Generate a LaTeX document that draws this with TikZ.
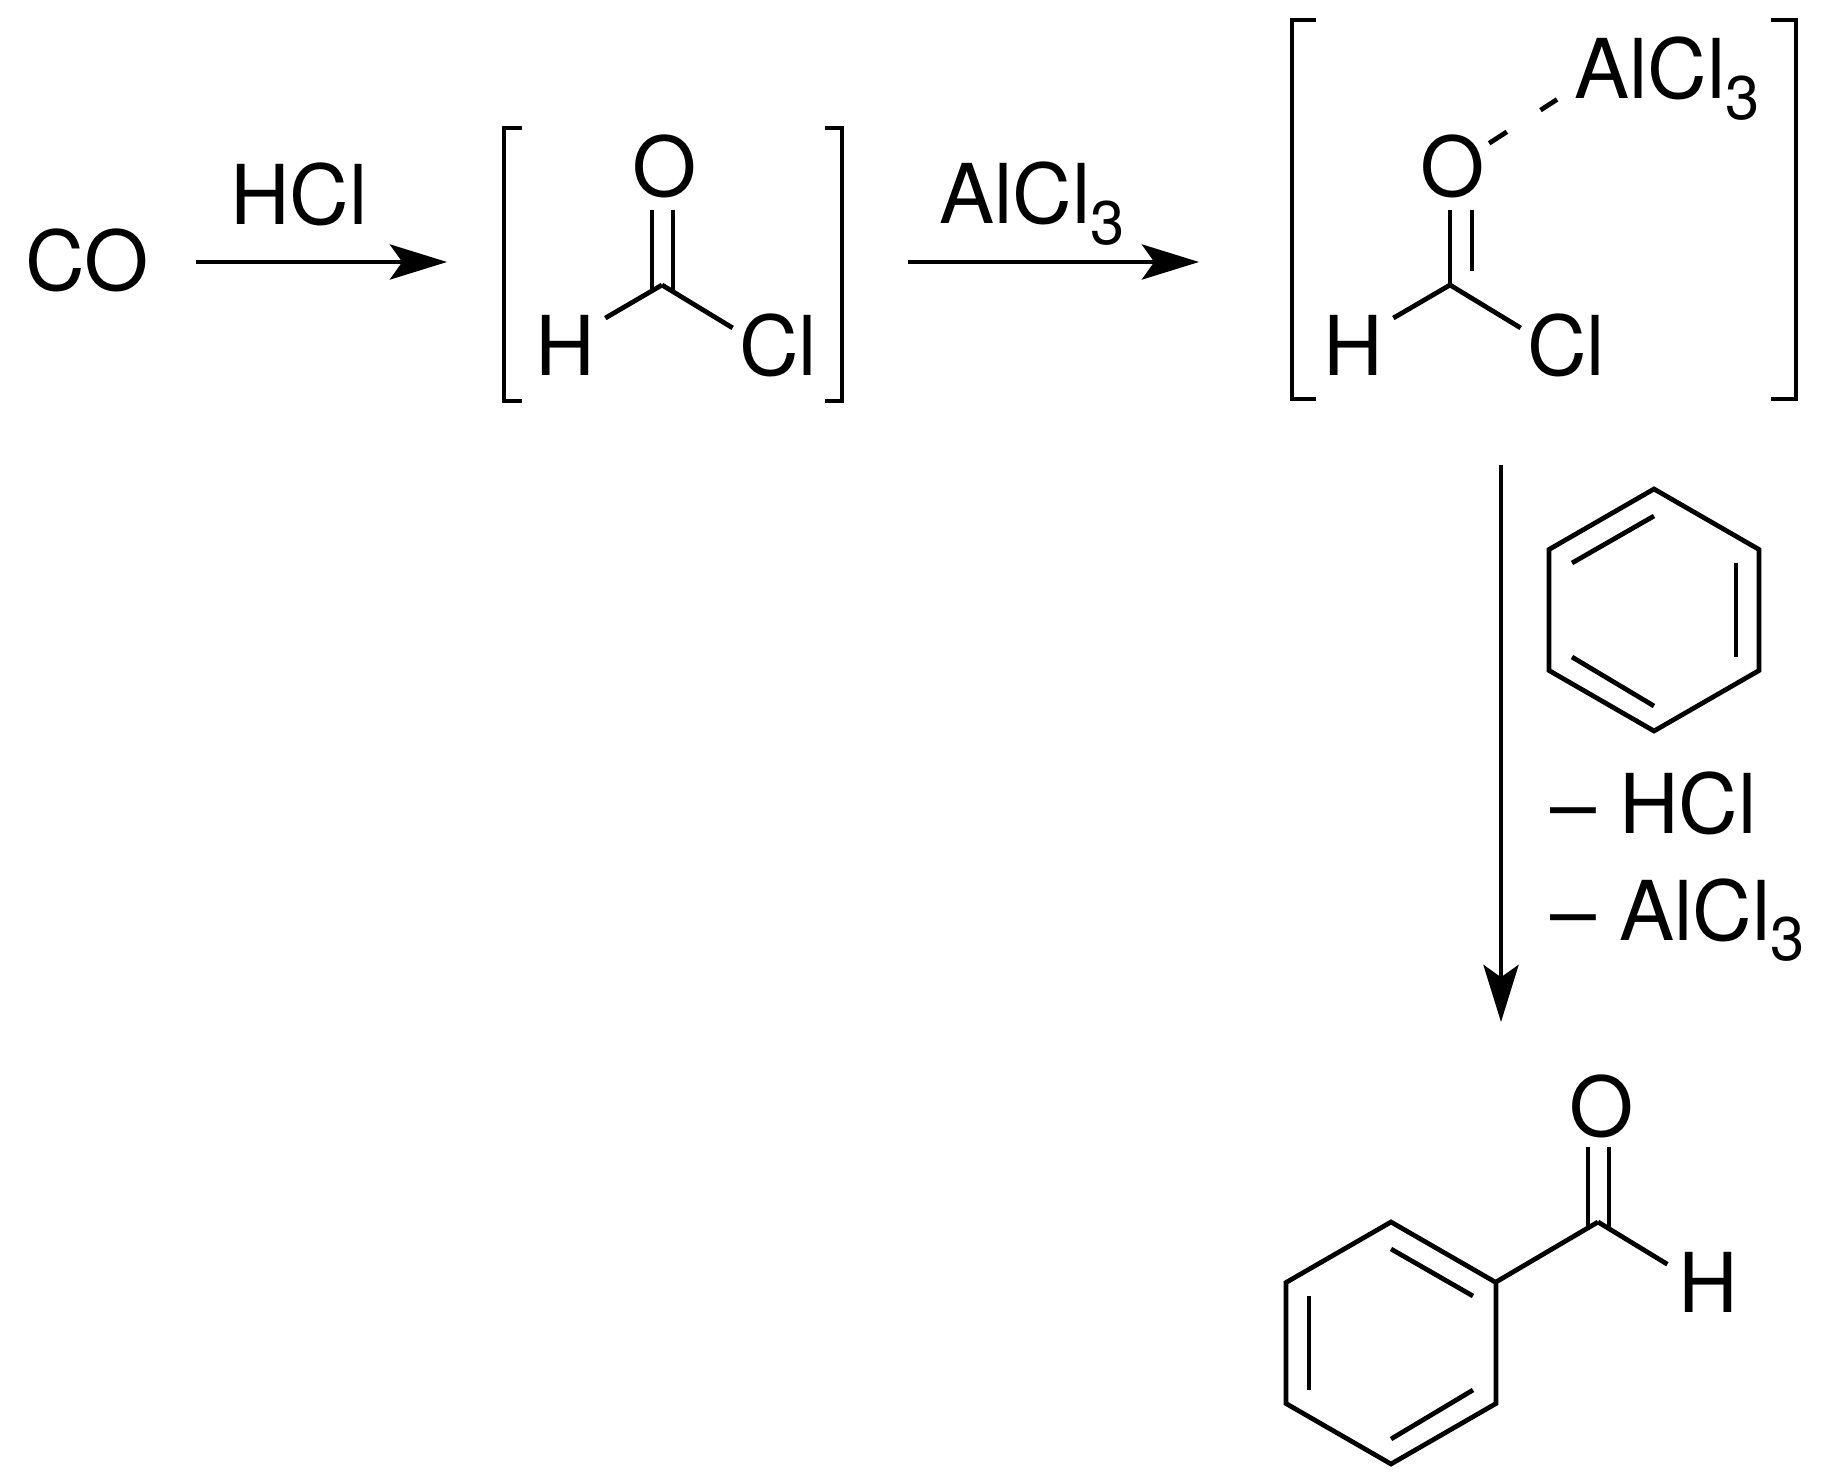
\documentclass[tikz,border=0pt]{standalone}
\usepackage{fontspec}
\setmainfont{TeX Gyre Heros}
\usetikzlibrary{arrows.meta}
\tikzset{
    atom/.style={inner sep=0pt,anchor=base,font=\fontsize{47}{58}\selectfont},
    bond/.style={line width=2.7pt,black},
    rxnarrow/.style={line width=2.5pt,-{Stealth[length=32.5pt,width=20pt,inset=7pt]}},
}
\newcommand\alcl{AlCl\raisebox{-11.5pt}{\fontsize{35}{35}\selectfont 3}}
\newcommand\dbl[4]{
    \coordinate (#1t) at (#2,#3);
    \coordinate (#1b) at (#2,#4);
    \draw[bond] (#1t) -- (#1b);
}
\newcommand\chloride[2]{
    \coordinate (c#1) at (#2,285);
    \node[atom] (o#1) at (#2+2.5,197) {O};
    \node[atom] (h#1) at (#2-97,376) {H};
    \node[atom] (cl#1) at (#2+116,376) {Cl};
    \draw[bond,shorten >=6.7pt] (c#1) -- (h#1.36);
    \draw[bond,shorten >=4pt] (c#1) -- (cl#1.160);
}
\newcommand\benzene[3]{
    \draw[bond,shift={(#1,#2)},xscale=#3] (0,-121) -- (105,-60.5) -- (105,60.5)
        -- (0,121) -- (-105,60.5) -- (-105,-60.5) -- cycle;
    \draw[bond,shift={(#1,#2)},xscale=#3] (82,-47) -- (82,47);
    \draw[bond,shift={(#1,#2)},xscale=#3] (-82,-47) -- (0,-94);
    \draw[bond,shift={(#1,#2)},xscale=#3] (-82,47) -- (0,96);
}
\begin{document}
\begin{tikzpicture}[x=0.02cm,y=-0.02cm]
    \useasboundingbox (0,0) rectangle (1825,1483);
    \node[atom] (co) at (87.5,291) {CO};
    \node[atom] (hcl) at (299,225) {HCl};
    \node[atom,anchor=base west] (alcltop) at (939,224) {\alcl};
    % first and second arrow
    \coordinate (arrAs) at (196,262);
    \coordinate (arrAe) at (447,262);
    \coordinate (arrBs) at (908,262);
    \coordinate (arrBe) at (1199,262);
    \draw[rxnarrow] (arrAs) -- (arrAe);
    \draw[rxnarrow] (arrBs) -- (arrBe);
    % acid chloride
    \chloride{2}{662}
    \dbl{dA}{652}{210}{290}
    \dbl{dB}{673}{210}{291}
    \draw[bond] (522,128) -- (504,128) -- (504,401) -- (522,401);
    \draw[bond] (825,128) -- (842,128) -- (842,401) -- (825,401);
    % complex
    \chloride{3}{1450}
    \dbl{dC}{1450}{210}{285}
    \dbl{dD}{1472}{210}{271}
    \node[atom,anchor=base west] (al3) at (1574,99) {\alcl};
    \draw[bond,shorten <=24.8pt,shorten >=11.5pt,dash pattern=on 12pt off 22.8pt on 11.4pt off 60pt]
        (o3.center) -- (al3.186);
    \draw[bond] (1316,20) -- (1292,20) -- (1292,399) -- (1316,399);
    \draw[bond] (1771,20) -- (1796,20) -- (1796,399) -- (1771,399);
    % down arrow
    \coordinate (arrCs) at (1501,465);
    \coordinate (arrCe) at (1501,1022);
    \draw[rxnarrow] (arrCs) -- (arrCe);
    \benzene{1654}{610}{1}
    \node[atom,anchor=base west] (lossa) at (1550,833) {– HCl};
    \node[atom,anchor=base west] (lossb) at (1550,940) {– \alcl};
    % benzaldehyde
    \benzene{1391}{1343}{-1}
    \coordinate (ph) at (1496,1282);
    \coordinate (c4) at (1598,1222);
    \node[atom] (o4) at (1601.5,1136) {O};
    \node[atom] (h4) at (1708.5,1312) {H};
    \draw[bond] (ph) -- (c4);
    \draw[bond,shorten >=7.3pt] (c4) -- (h4.160);
    \dbl{dE}{1588}{1147}{1228}
    \dbl{dF}{1609}{1147}{1229}
\end{tikzpicture}
\end{document}
